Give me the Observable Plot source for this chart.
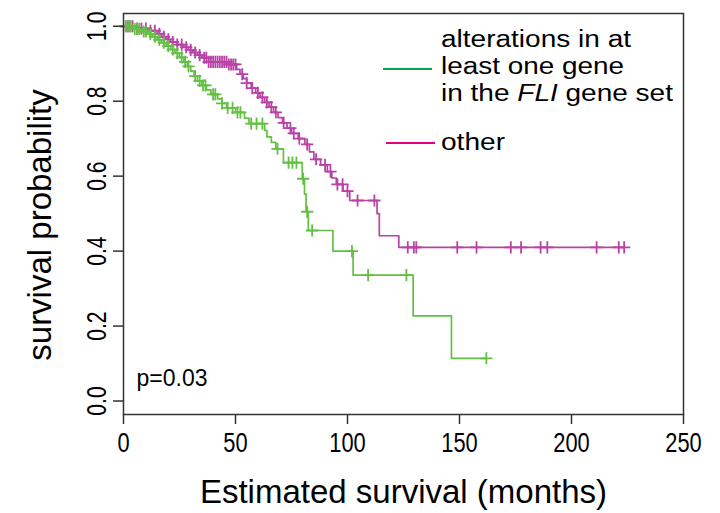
<!DOCTYPE html>
<html><head><meta charset="utf-8">
<script src="https://cdn.jsdelivr.net/npm/d3@7"></script>
<script src="https://cdn.jsdelivr.net/npm/@observablehq/plot@0.6"></script>
<style>body{margin:0;background:#fff}</style>
</head><body><div id="chart"></div>
<script>
// ---- data ----
const groupNames = ["alterations in at least one gene in the FLI gene set", "other"];
// group 1: alterations (green)
const altTimes = [0, 4, 8, 11, 13, 15, 17, 19, 21, 23, 25, 27, 28.5, 30, 31.5, 33, 35, 37, 39, 42, 44, 46, 50, 54, 56, 63, 64, 66, 68, 71.4, 79.8, 80.8, 81.5, 82.5, 93.5, 102.5, 129.3, 146.4];
const altSurv  = [1.0, 0.993, 0.986, 0.979, 0.972, 0.964, 0.956, 0.947, 0.938, 0.928, 0.917, 0.905, 0.893, 0.880, 0.867, 0.854, 0.842, 0.830, 0.818, 0.806, 0.794, 0.782, 0.770, 0.755, 0.740, 0.722, 0.705, 0.690, 0.673, 0.636, 0.593, 0.552, 0.505, 0.455, 0.400, 0.336, 0.227, 0.114];
const altEnd = 162;
const altCensor = [1, 2, 3, 5, 6, 7, 9, 10, 12, 14, 16, 18, 20, 22, 24, 26, 27.5, 29, 32, 34, 35.5, 36.6, 40, 41, 44, 46.5, 48.7, 50.9, 52.2, 57, 59.4, 62, 68.75, 73.7, 75.4, 77.2, 80.2, 82, 84.2, 102, 109.2, 126.3, 162];
// group 2: other (magenta)
const othTimes = [0, 6, 12, 15, 17, 19, 21, 24, 27, 29, 31, 33, 35, 38, 47, 50.5, 52, 53.5, 55, 57, 59, 61, 63, 65, 67, 69, 71, 73, 75, 78, 81, 83, 85, 88, 91, 93, 95, 98, 101, 113.2, 114.2, 122.9];
const othSurv  = [1.0, 0.994, 0.988, 0.980, 0.972, 0.965, 0.958, 0.951, 0.944, 0.937, 0.930, 0.923, 0.916, 0.905, 0.898, 0.885, 0.872, 0.860, 0.848, 0.835, 0.822, 0.810, 0.797, 0.784, 0.770, 0.756, 0.742, 0.728, 0.714, 0.700, 0.685, 0.665, 0.645, 0.630, 0.612, 0.595, 0.578, 0.560, 0.535, 0.500, 0.441, 0.410];
const othEnd = 223.5;
const othCensor = [1, 2, 3, 4, 6, 8, 10, 12, 14, 16, 18, 20, 22, 24, 26, 28, 30, 32, 34, 36, 37, 38, 39, 40, 41, 42, 43, 44, 45, 46, 47, 48, 49, 50, 53, 55, 57.5, 60, 62, 64, 66, 68, 71.5, 74.5, 76, 78.5, 82, 86, 90, 92.4, 95.5, 97.8, 100, 104.5, 112, 126.9, 129.6, 130.7, 149, 157.6, 172.9, 177.5, 186.2, 189.2, 211.2, 221.1, 223.5];
const xTicks = [0, 50, 100, 150, 200, 250];
const yTicks = [0, 0.2, 0.4, 0.6, 0.8, 1.0];
const pValueLabel = "p=0.03";
const xTitle = "Estimated survival (months)";
const yTitle = "survival probability";

const lineColors = {alt: "#63c043", oth: "#b842a6"};
const legendColors = {alt: "#00a651", oth: "#e4007f"};
const FONT = "Liberation Sans, Arial, Helvetica, sans-serif";

function stepRows(times, surv, end, key) {
  const rows = times.map((t, i) => ({t, s: surv[i], g: key}));
  rows.push({t: end, s: surv[surv.length - 1], g: key});
  return rows;
}
function levelAt(times, surv, t) {
  let s = surv[0];
  for (let i = 0; i < times.length; i++) if (times[i] <= t) s = surv[i];
  return s;
}
const altRows = stepRows(altTimes, altSurv, altEnd, "alt");
const othRows = stepRows(othTimes, othSurv, othEnd, "oth");
const altCens = altCensor.map(t => ({t, s: levelAt(altTimes, altSurv, t)}));
const othCens = othCensor.map(t => ({t, s: levelAt(othTimes, othSurv, t)}));

const plot = Plot.plot({
  width: 720, height: 513,
  marginLeft: 123, marginRight: 37, marginTop: 13, marginBottom: 99,
  style: {fontFamily: FONT, color: "#000", background: "#fff"},
  x: {domain: [0, 250]},
  y: {domain: [-0.036, 1.034]},
  marks: [
    Plot.line(othRows, {x: "t", y: "s", curve: "step-after", stroke: lineColors.oth, strokeWidth: 1.7}),
    Plot.dot(othCens, {x: "t", y: "s", symbol: "plus", r: 4, stroke: lineColors.oth, strokeWidth: 1.8}),
    Plot.line(altRows, {x: "t", y: "s", curve: "step-after", stroke: lineColors.alt, strokeWidth: 1.7}),
    Plot.dot(altCens, {x: "t", y: "s", symbol: "plus", r: 4, stroke: lineColors.alt, strokeWidth: 1.8}),
    Plot.frame({stroke: "#333", strokeWidth: 1.5}),
    Plot.axisX({ticks: xTicks, tickSize: 10, tickPadding: 8, fontSize: 28, label: null, stroke: "#333", strokeWidth: 1.5}),
    Plot.axisY({ticks: yTicks, tickSize: 10, tickPadding: 8, tickRotate: -90, tickFormat: d3.format(".1f"), fontSize: 27, label: null, stroke: "#333", strokeWidth: 1.5}),
    Plot.text([xTitle], {frameAnchor: "bottom", dy: 78, textAnchor: "middle", lineAnchor: "middle", fontSize: 33, fill: "#000"}),
    Plot.text([yTitle], {frameAnchor: "left", dx: -83, dy: 11, rotate: -90, textAnchor: "middle", lineAnchor: "middle", fontSize: 33, fill: "#000"}),
    Plot.text([pValueLabel], {frameAnchor: "bottom-left", dx: 13, dy: -36, textAnchor: "start", lineAnchor: "middle", fontSize: 23, fill: "#000"})
  ]
});

const svg = d3.select(plot);
// condensed tick labels, as in the reference
svg.selectAll('[aria-label="x-axis tick label"] text, [aria-label="y-axis tick label"] text').each(function() {
  const el = d3.select(this);
  el.attr("transform", (el.attr("transform") || "") + " scale(0.78,1)");
});

// legend (drawn inside the plot area, as in the reference)
const lg = svg.append("g").attr("font-family", FONT).attr("font-size", 23).attr("fill", "#000").attr("text-anchor", "start");
lg.append("line").attr("x1", 383).attr("x2", 432).attr("y1", 69).attr("y2", 69).attr("stroke", legendColors.alt).attr("stroke-width", 2);
lg.append("line").attr("x1", 386).attr("x2", 435).attr("y1", 143).attr("y2", 143).attr("stroke", legendColors.oth).attr("stroke-width", 2);
const addLine = (y, len) => lg.append("text").attr("x", 441).attr("y", y).attr("textLength", len).attr("lengthAdjust", "spacingAndGlyphs");
addLine(47, 190).text("alterations in at");
addLine(74, 183).text("least one gene");
const t3 = addLine(101, 232);
t3.append("tspan").text("in the ");
t3.append("tspan").attr("font-style", "italic").text("FLI");
t3.append("tspan").text(" gene set");
addLine(150, 64).text("other");

document.getElementById("chart").appendChild(plot);
</script>
</body></html>
